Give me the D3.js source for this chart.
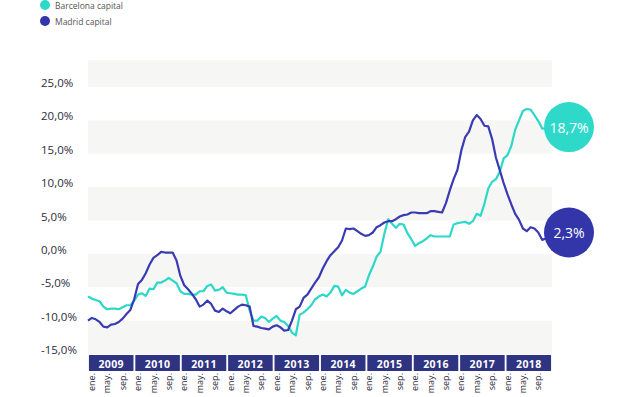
<!DOCTYPE html>
<html>
<head>
<meta charset="utf-8">
<script src="https://cdn.jsdelivr.net/npm/d3@7"></script>
<style>
html,body{margin:0;padding:0;background:#fff;}
svg{display:block;font-family:"Open Sans",sans-serif;}
</style>
</head>
<body>
<svg id="chart" width="643" height="397"></svg>
<script>
const years = ["2009","2010","2011","2012","2013","2014","2015","2016","2017","2018"];
const monthLabels = ["ene.","may.","sep."];
const monthLabelIdx = [0,4,8];
const yTicks = [-15,-10,-5,0,5,10,15,20,25];
const seriesNames = ["Barcelona capital","Madrid capital"];

const barcelona = [
-6.4,-6.7,-6.9,-7.1,-7.9,-8.3,-8.2,-8.2,-8.3,-8.0,-7.7,-7.7,
-7.0,-6.1,-5.9,-6.3,-5.2,-5.3,-4.3,-4.3,-4.0,-3.6,-4.0,-4.4,
-5.6,-6.0,-6.0,-6.1,-6.1,-5.6,-5.6,-4.8,-4.6,-5.5,-5.4,-5.0,
-5.8,-5.9,-6.0,-6.1,-6.1,-6.2,-8.5,-10.0,-10.0,-9.4,-9.6,-10.2,
-9.7,-9.3,-10.0,-10.2,-10.8,-11.8,-12.2,-9.1,-8.8,-8.3,-7.7,-6.8,
-6.4,-6.1,-6.4,-5.8,-4.8,-4.9,-6.2,-5.4,-5.8,-6.0,-5.6,-5.2,
-4.9,-3.2,-1.9,-0.4,0.3,3.0,5.2,4.5,3.9,4.5,4.4,3.1,
2.2,1.2,1.6,1.9,2.3,2.8,2.6,2.6,2.6,2.6,2.6,4.4,
4.6,4.7,4.8,4.5,4.9,6.0,5.7,7.5,9.8,10.8,11.2,12.3,
14.3,14.8,16.2,18.6,20.0,21.4,21.7,21.6,20.8,19.9,18.8,18.7
];
const madrid = [
-10.0,-9.6,-9.8,-10.2,-10.9,-11.0,-10.6,-10.5,-10.2,-9.7,-9.0,-8.4,
-6.8,-4.5,-3.9,-2.9,-1.6,-0.6,-0.2,0.3,0.2,0.2,0.2,-1.0,
-3.3,-4.7,-5.3,-6.0,-6.8,-7.9,-7.6,-7.0,-7.5,-8.5,-8.7,-8.2,
-8.6,-8.9,-8.4,-7.9,-7.6,-7.7,-7.9,-10.8,-10.9,-11.1,-11.2,-11.3,
-10.9,-10.7,-11.0,-11.5,-11.4,-10.0,-8.3,-7.9,-6.6,-6.1,-5.2,-4.3,
-3.5,-2.2,-1.1,-0.2,0.4,1.0,2.0,3.8,3.7,3.8,3.4,3.0,
2.7,2.8,3.2,4.0,4.3,4.7,4.9,4.9,5.2,5.6,5.8,5.9,
6.2,6.2,6.1,6.1,6.1,6.4,6.4,6.3,6.2,7.6,9.5,11.2,
12.6,15.5,17.5,18.3,20.0,20.8,20.2,19.2,19.1,17.2,14.4,12.5,
10.6,8.9,7.4,6.0,5.1,3.8,3.4,4.0,3.8,3.2,2.1,2.3
];
const lastLabels = ["18,7%","2,3%"];

const colors = ["#2ed8c9","#3a3bb3"];
const circleColors = ["#2fd9ca","#3236a9"];
const navy = "#2e3382";

const svg = d3.select("#chart");
const plotL = 88, plotR = 552;
const x = d3.scaleLinear().domain([0, 119]).range([88, 546]);
const xYear = d3.scaleBand().domain(years).range([plotL, plotR]).paddingInner(0.04).paddingOuter(0.02);
const y = d3.scaleLinear().domain([-15, 25]).range([354, 87]);

// background bands
const bands = [[25,29],[15,20],[5,10],[-5,0],[-15,-10]];
svg.append("g").selectAll("rect").data(bands).join("rect")
  .attr("x", plotL).attr("width", plotR - plotL)
  .attr("y", d => y(d[1])).attr("height", d => y(d[0]) - y(d[1]))
  .attr("fill", "#f6f6f4");

// y labels
svg.append("g").selectAll("text").data(yTicks).join("text")
  .attr("x", 41).attr("y", d => y(d) - 3)
  .attr("dominant-baseline", "middle")
  .attr("font-size", 11.5).attr("fill", "#2b2b3a")
  .text(d => d3.format(".1f")(d).replace(".", ",").replace("−","-") + "%");

// lines
const line = d3.line().x((d, i) => x(i)).y(d => y(d));
[barcelona, madrid].forEach((s, k) => {
  svg.append("path").datum(s)
    .attr("d", line).attr("fill", "none")
    .attr("stroke", colors[k]).attr("stroke-width", 2.2)
    .attr("stroke-linejoin", "round");
});

// end circles
const circOffset = [-2, -6];
[barcelona, madrid].forEach((s, k) => {
  const cx = x(s.length - 1) + 23, cy = y(s[s.length - 1]) + circOffset[k];
  svg.append("circle").attr("cx", cx).attr("cy", cy).attr("r", 25).attr("fill", circleColors[k]);
  svg.append("text").attr("x", cx).attr("y", cy)
    .attr("text-anchor", "middle").attr("dominant-baseline", "central")
    .attr("font-size", 14).attr("fill", "#fff").text(lastLabels[k]);
});

// year boxes
const yb = svg.append("g");
yb.selectAll("rect").data(years).join("rect")
  .attr("x", d => xYear(d)).attr("width", xYear.bandwidth())
  .attr("y", 355).attr("height", 16).attr("fill", navy);
yb.selectAll("text").data(years).join("text")
  .attr("x", d => xYear(d) + xYear.bandwidth() / 2).attr("y", 363.5)
  .attr("text-anchor", "middle").attr("dominant-baseline", "central")
  .attr("font-size", 10.5).attr("font-weight", "bold").attr("fill", "#fff")
  .attr("letter-spacing", 0.4)
  .text(d => d);

// month labels
const ml = [];
years.forEach((yr, yi) => monthLabelIdx.forEach((m, mi) => ml.push({i: yi * 12 + m, t: monthLabels[mi]})));
svg.append("g").selectAll("text").data(ml).join("text")
  .attr("transform", d => `translate(${x(d.i) + 3.5},${373}) rotate(-90)`)
  .attr("text-anchor", "end").attr("dominant-baseline", "central")
  .attr("font-size", 9).attr("fill", "#2b2b3a")
  .text(d => d.t);

// legend
const lg = svg.append("g");
seriesNames.forEach((n, k) => {
  lg.append("circle").attr("cx", 45).attr("cy", 5 + k * 16).attr("r", 5).attr("fill", circleColors[k]);
  lg.append("text").attr("x", 55).attr("y", 5 + k * 16).attr("dominant-baseline", "central")
    .attr("font-size", 8.5).attr("fill", "#555").text(n);
});
</script>
</body>
</html>
